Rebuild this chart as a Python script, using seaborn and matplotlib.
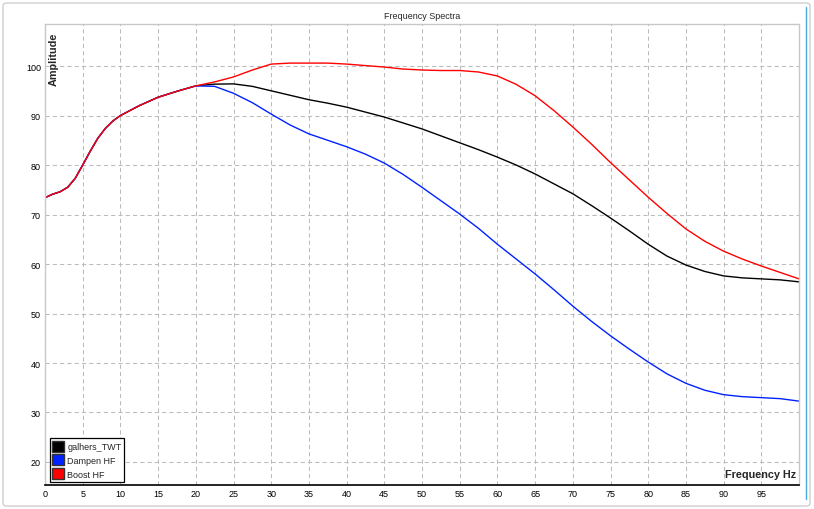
import numpy as np
import pandas as pd
import matplotlib
matplotlib.use("Agg")
import matplotlib.pyplot as plt
import seaborn as sns
from matplotlib.patches import Patch, FancyBboxPatch
from matplotlib.lines import Line2D

# ---- data ----
freq = [0, 1, 2, 3, 4, 5, 6, 7, 8, 9, 10, 12.5, 15, 17.5, 20,
        22.5, 25, 27.5, 30, 32.5, 35, 37.5, 40, 42.5, 45, 47.5, 50,
        52.5, 55, 57.5, 60, 62.5, 65, 67.5, 70, 72.5, 75, 77.5, 80,
        82.5, 85, 87.5, 90, 92.5, 95, 97.5, 100]

common = [73.4, 74.1, 74.6, 75.5, 77.3, 80.0, 82.8, 85.4, 87.4, 88.9,
          90.0, 92.0, 93.7, 94.9, 96.0]

twt_tail = [96.35, 96.4, 95.9, 95.0, 94.1, 93.2, 92.5, 91.7, 90.7, 89.7,
            88.5, 87.3, 85.9, 84.5, 83.1, 81.6, 80.0, 78.2, 76.2, 74.2,
            71.8, 69.3, 66.7, 64.0, 61.6, 59.8, 58.5, 57.6, 57.2, 57.0,
            56.8, 56.4]

boost_tail = [96.8, 97.8, 99.2, 100.4, 100.6, 100.6, 100.6, 100.4, 100.1,
              99.8, 99.4, 99.2, 99.1, 99.1, 98.8, 98.0, 96.3, 94.0, 91.0,
              87.7, 84.2, 80.5, 77.0, 73.5, 70.2, 67.1, 64.6, 62.6, 61.0,
              59.6, 58.3, 57.0]

dampen_tail = [95.9, 94.5, 92.6, 90.3, 88.1, 86.3, 85.0, 83.7, 82.2, 80.4,
               78.1, 75.5, 72.8, 70.1, 67.2, 64.0, 61.0, 58.0, 54.8, 51.5,
               48.4, 45.5, 42.8, 40.2, 37.8, 35.9, 34.5, 33.6, 33.2, 33.0,
               32.8, 32.3]

series_names = ["galhers_TWT", "Dampen HF", "Boost HF"]
series_colors = ["#000000", "#0022ff", "#ff0000"]
x_ticks = list(range(0, 100, 5))
y_ticks = list(range(20, 101, 10))

twt = common + twt_tail
dampen = common + dampen_tail
boost = common + boost_tail

df = pd.DataFrame({
    "freq": freq * 3,
    "amp": twt + dampen + boost,
    "series": [series_names[0]] * len(freq) + [series_names[1]] * len(freq)
              + [series_names[2]] * len(freq),
})

sns.set_theme(style="white")
plt.rcParams["font.family"] = ["Liberation Sans", "DejaVu Sans"]

fig = plt.figure(figsize=(8.14, 5.10), dpi=100)
fig.patch.set_facecolor("white")
ax = fig.add_axes([45 / 814, 24 / 510, 754 / 814, 461 / 510])

sns.lineplot(data=df, x="freq", y="amp", hue="series",
             hue_order=series_names, palette=series_colors,
             linewidth=1.0, legend=False, ax=ax, sort=False)
ax.set_xlim(0, 100)
ax.set_ylim(15.35, 108.5)
ax.set_xticks(x_ticks)
ax.set_yticks(y_ticks)
ax.set_xticklabels([str(t) for t in x_ticks], fontsize=6.5)
ax.set_yticklabels([str(t) for t in y_ticks], fontsize=6.5)
ax.tick_params(axis="both", length=0, pad=3, colors="#000000")
ax.set_xlabel("")
ax.set_ylabel("")

ax.grid(True, color="#bbbbbb", linestyle=(0, (4, 3)), linewidth=0.75)
ax.set_axisbelow(True)
for s in ["top", "right", "left"]:
    ax.spines[s].set_color("#c8c8c8")
    ax.spines[s].set_linewidth(1.0)
ax.spines["bottom"].set_color("#000000")
ax.spines["bottom"].set_linewidth(1.2)

ax.set_title("Frequency Spectra", fontsize=6.5, pad=4)

ax.text(0.012, 0.983, "Amplitude", transform=ax.transAxes, rotation=90,
        ha="center", va="top", fontsize=7.8, fontweight="bold")
ax.text(0.996, 0.012, "Frequency Hz", transform=ax.transAxes,
        ha="right", va="bottom", fontsize=7.8, fontweight="bold")

handles = [Patch(facecolor=c, edgecolor="#333333", label=n)
           for n, c in zip(series_names, series_colors)]
leg = ax.legend(handles=handles, loc="lower left",
                bbox_to_anchor=(0.006, 0.007), fontsize=6.5,
                handlelength=1.25, handleheight=1.5, handletextpad=0.4,
                labelspacing=0.3, borderpad=0.3, borderaxespad=0.0,
                fancybox=False, framealpha=1, edgecolor="#000000")
leg.get_frame().set_linewidth(0.9)

# outer frame and blue side line
frame = FancyBboxPatch((3 / 814, 3 / 510), 807 / 814, 503 / 510,
                       boxstyle="round,pad=0,rounding_size=0.005",
                       transform=fig.transFigure, fill=False,
                       edgecolor="#cfcfcf", linewidth=1.0)
fig.patches.append(frame)
fig.lines.append(Line2D([806 / 814, 806 / 814], [10 / 510, 502 / 510],
                        transform=fig.transFigure, color="#4aa8e0",
                        linewidth=1.0))

fig.savefig("out.png", dpi=100)
